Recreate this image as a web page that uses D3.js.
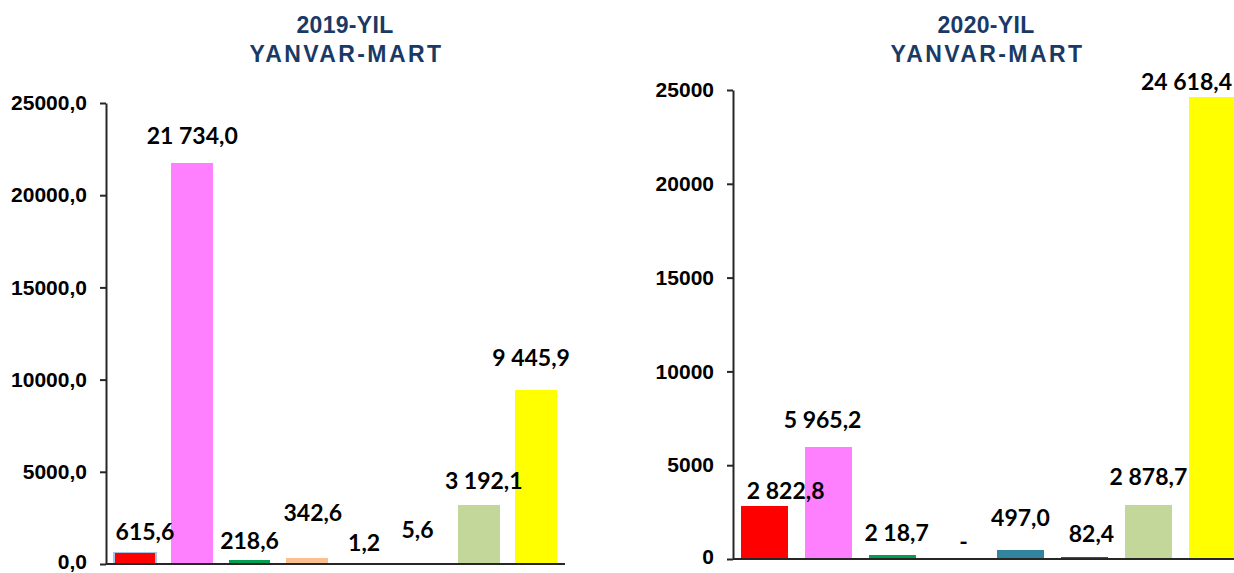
<!DOCTYPE html>
<html>
<head>
<meta charset="utf-8">
<script src="https://cdn.jsdelivr.net/npm/d3@7"></script>
<style>
body { margin: 0; background: #fff; overflow: hidden; }
.title { font-family: "Liberation Sans", Arial, sans-serif; font-weight: bold; font-size: 23px; fill: #1A3A66; }
.axis text { font-family: "Liberation Sans", Arial, sans-serif; font-weight: bold; font-size: 21px; fill: #000; }
.axis path, .axis line { stroke: #262626; stroke-width: 2; }
.baseline { stroke: #262626; stroke-width: 2; }
.bar { shape-rendering: crispEdges; }
.bar-label { font-family: Lato, "Open Sans", sans-serif; font-weight: bold; font-size: 23px; fill: #000; }
</style>
</head>
<body>
<script>
// Data
var categories = ["c1", "c2", "c3", "c4", "c5", "c6", "c7", "c8"];
var barColors = ["#FF0000", "#FF80FF", "#00A050", "#FAC090", "#31859C", "#1F5F7A", "#C4D79B", "#FFFF00"];

var values2019 = [615.6, 21734.0, 218.6, 342.6, 1.2, 5.6, 3192.1, 9445.9];
var labels2019 = ["615,6", "21 734,0", "218,6", "342,6", "1,2", "5,6", "3 192,1", "9 445,9"];

var values2020 = [2822.8, 5965.2, 218.7, 0, 497.0, 82.4, 2878.7, 24618.4];
var labels2020 = ["2 822,8", "5 965,2", "2 18,7", "-", "497,0", "82,4", "2 878,7", "24 618,4"];

var yTicks = [0, 5000, 10000, 15000, 20000, 25000];
var titles2019 = ["2019-YIL", "YANVAR-MART"];
var titles2020 = ["2020-YIL", "YANVAR-MART"];

// Hand placed label nudges (pixels above bar top / sideways), like in the original sheet
var lift2019 = [21, 28, 19, 45, 21, 34, 24, 32],
    shift2019 = [10, 0, 0, 6, 0, -4, 5, -5];
var lift2020 = [15, 27, 22, 17, 32, 24, 28, 15],
    shift2020 = [21, -6, 4, 7, 0, 7, 0, 0];

var width = 1234,
    height = 573;

var svg = d3.select("body")
    .append("svg")
    .attr("width", width)
    .attr("height", height);

var comma1 = d3.formatLocale({decimal: ",", thousands: " ", grouping: [3]}).format(".1f");

drawPanel({
    values: values2019, labels: labels2019, titles: titles2019,
    lift: lift2019, shift: shift2019,
    axisX: 106, xEnd: 565, y0: 564, yTop: 103, titleX: 345,
    padInner: 0.27, padOuter: 0.14,
    tickFormat: comma1, outline: true
});

drawPanel({
    values: values2020, labels: labels2020, titles: titles2020,
    lift: lift2020, shift: shift2020,
    axisX: 733, xEnd: 1244, y0: 559, yTop: 90, titleX: 986,
    padInner: 0.26, padOuter: 0.125,
    tickFormat: d3.format("d"), outline: false
});

function drawPanel(p) {
    var g = svg.append("g");

    // Title, two lines
    g.append("text")
        .attr("class", "title")
        .attr("x", p.titleX)
        .attr("y", 33)
        .attr("text-anchor", "middle")
        .style("letter-spacing", "0.3px")
        .text(p.titles[0]);
    g.append("text")
        .attr("class", "title")
        .attr("x", p.titleX + 1.5)
        .attr("y", 62)
        .attr("text-anchor", "middle")
        .style("letter-spacing", "2.4px")
        .text(p.titles[1]);

    // Scales
    var xScale = d3.scaleBand()
        .domain(categories)
        .range([p.axisX, p.xEnd])
        .paddingInner(p.padInner)
        .paddingOuter(p.padOuter);

    var yScale = d3.scaleLinear()
        .domain([0, 25000])
        .range([p.y0, p.yTop]);

    // Bars
    g.selectAll(".bar")
        .data(p.values)
        .enter()
        .append("rect")
        .attr("class", "bar")
        .attr("x", function(d, i) { return xScale(categories[i]); })
        .attr("width", xScale.bandwidth())
        .attr("y", function(d) { return yScale(d); })
        .attr("height", function(d) { return p.y0 - yScale(d); })
        .attr("fill", function(d, i) { return barColors[i]; })
        .attr("stroke", function(d, i) { return (p.outline && i == 0) ? "#A9C4EB" : "none"; })
        .attr("stroke-width", 1.5);

    // Y axis
    var yAxis = d3.axisLeft()
        .scale(yScale)
        .tickValues(yTicks)
        .tickFormat(p.tickFormat)
        .tickSize(6)
        .tickSizeOuter(0)
        .tickPadding(13);

    var axisG = g.append("g")
        .attr("class", "y axis")
        .attr("transform", "translate(" + p.axisX + ",0)")
        .call(yAxis);

    // lift the zero label a touch so it stays on the page
    axisG.selectAll(".tick text")
        .filter(function(d) { return d == 0; })
        .attr("dy", "0.2em");

    // Base line along zero
    g.append("line")
        .attr("class", "baseline")
        .attr("x1", p.axisX)
        .attr("x2", p.xEnd)
        .attr("y1", yScale(0))
        .attr("y2", yScale(0));

    // Value labels
    g.selectAll(".bar-label")
        .data(p.values)
        .enter()
        .append("text")
        .attr("class", "bar-label")
        .attr("x", function(d, i) { return xScale(categories[i]) + xScale.bandwidth() / 2 + p.shift[i]; })
        .attr("y", function(d, i) { return yScale(d) - p.lift[i]; })
        .attr("dy", "0.36em")
        .attr("text-anchor", "middle")
        .text(function(d, i) { return p.labels[i]; })
        .each(function() {
            // keep labels inside the page
            var box = this.getBBox();
            if (box.x + box.width > width - 2) {
                d3.select(this).attr("x", +d3.select(this).attr("x") - (box.x + box.width - width + 2));
            }
        });
}
</script>
</body>
</html>
